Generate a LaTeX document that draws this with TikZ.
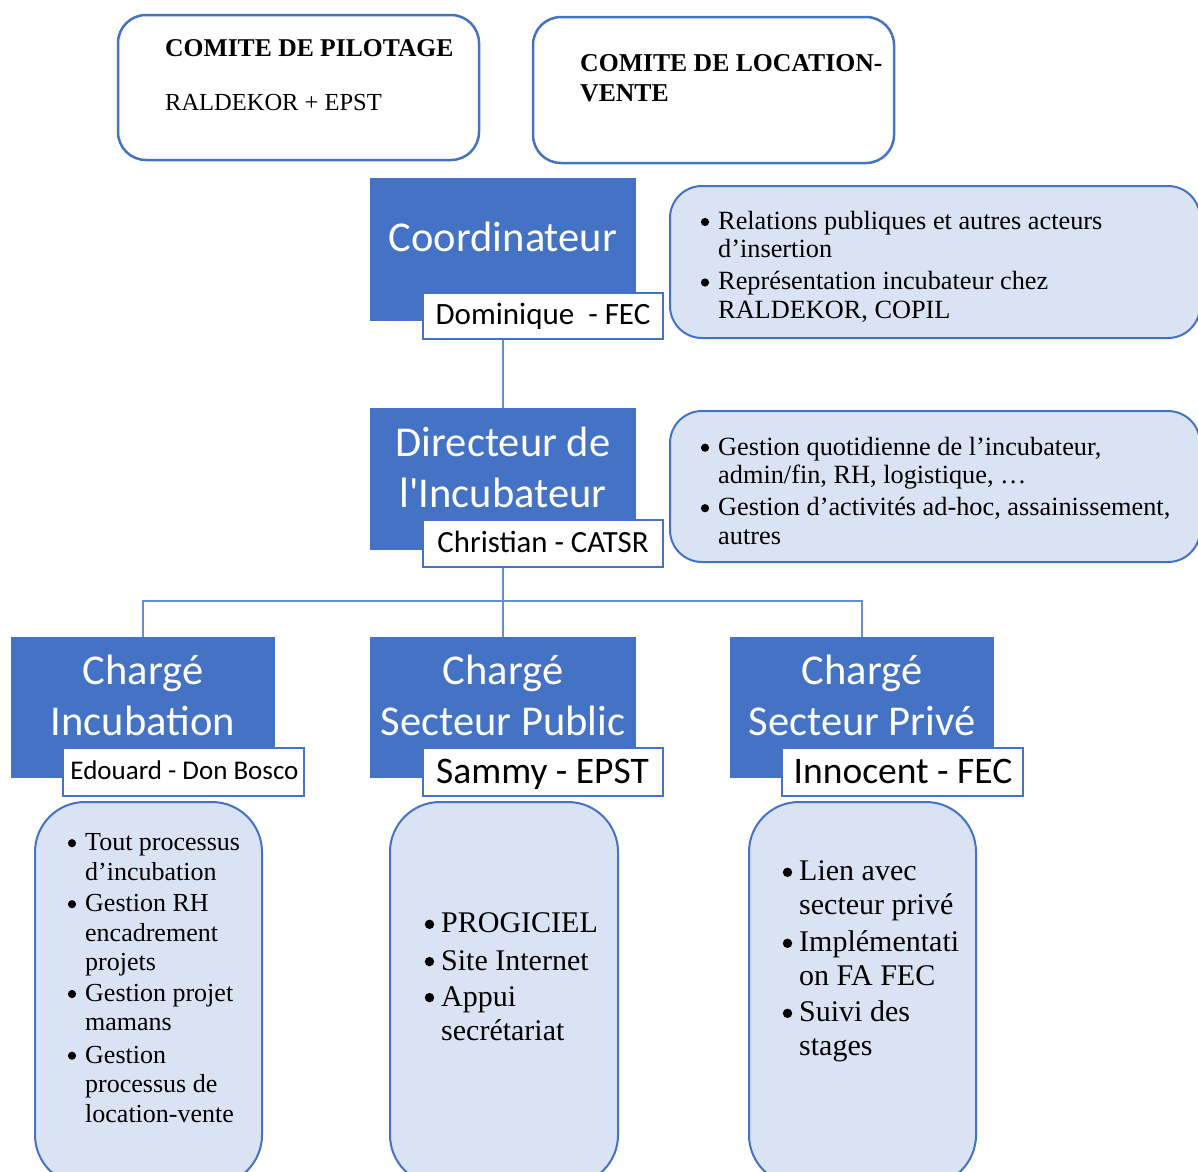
\documentclass[tikz,border=0pt]{standalone}
\usepackage{fontspec}
\setmainfont{Liberation Serif}
\newfontfamily\calfont{Carlito}
\definecolor{mblue}{HTML}{4472C4}
\definecolor{lblue}{HTML}{DAE3F3}
\definecolor{lineblue}{HTML}{6A8DD0}
\tikzset{
  topbox/.style={draw=mblue, line width=2.5pt, rounded corners=28pt, fill=white, inner sep=0pt},
  blueblock/.style={fill=mblue, draw=none, minimum width=266pt, minimum height=142pt, inner sep=0pt},
  namebox/.style={fill=white, draw=mblue, line width=1.6pt, minimum width=240pt, minimum height=47pt, inner sep=0pt},
  infobox/.style={fill=lblue, draw=mblue, line width=2pt, inner sep=0pt},
  conn/.style={draw=lineblue, line width=2pt},
  whitetxt/.style={text=white, font=\calfont\fontsize{42.5}{51}\selectfont, align=center, inner sep=0pt, anchor=base},
  nametxt/.style={font=\calfont, inner sep=0pt, anchor=base},
  itemtxt/.style={anchor=base west, align=left, inner sep=0pt},
  toptxt/.style={anchor=base west, inner sep=0pt},
  bulsmall/.style={fill=black, radius=4.1pt},
  bulbig/.style={fill=black, radius=4.7pt},
}
\begin{document}
\begin{tikzpicture}[x=1pt,y=-1pt]
\useasboundingbox (0,0) rectangle (1198,1171);
\fill[white] (0,0) rectangle (1198,1171);

% top committees
\node[topbox, minimum width=361pt, minimum height=145pt] (copil) at (298.5,87.5) {};
\node[toptxt, font=\bfseries\fontsize{25.6}{30}\selectfont] (copilT) at (165,56.7) {COMITE DE PILOTAGE};
\node[toptxt, font=\fontsize{24.5}{30}\selectfont] (copilS) at (165,110) {RALDEKOR + EPST};
\node[topbox, minimum width=361pt, minimum height=146pt] (colv) at (713.5,90) {};
\node[toptxt, font=\bfseries\fontsize{25.7}{30}\selectfont] (colvT) at (580,71) {COMITE DE LOCATION-};
\node[toptxt, font=\bfseries\fontsize{25.7}{30}\selectfont] (colvT2) at (580,101.7) {VENTE};

% info boxes right
\node[infobox, rounded corners=32pt, minimum width=530pt, minimum height=152pt] (info1) at (935,262) {};
\node[infobox, rounded corners=32pt, minimum width=530pt, minimum height=151pt] (info2) at (935,486.5) {};

% bottom info boxes
\node[infobox, rounded corners=50pt, minimum width=227pt, minimum height=383pt] (boxL) at (148.5,993.5) {};
\node[infobox, rounded corners=50pt, minimum width=228pt, minimum height=383pt] (boxM) at (504,993.5) {};
\node[infobox, rounded corners=50pt, minimum width=227pt, minimum height=383pt] (boxR) at (862.5,993.5) {};

% blue blocks
\node[blueblock, minimum height=143pt] (coord) at (503,249.5) {};
\node[blueblock] (dir) at (503,479) {};
\node[blueblock, minimum width=264pt, minimum height=141pt] (inc) at (143,707.5) {};
\node[blueblock, minimum height=141pt] (pub) at (503,707.5) {};
\node[blueblock, minimum width=264pt, minimum height=141pt] (priv) at (862,707.5) {};

% connectors
\coordinate (junc) at (503,601);
\draw[conn] (coord.south) -- (dir.north);
\draw[conn] (dir.south) -- (pub.north);
\draw[conn] (inc.north) |- (junc) -| (priv.north);

% name boxes
\node[namebox, minimum height=46pt] (dom) at (543,316) {};
\node[namebox] (chr) at (543,543.5) {};
\node[namebox, minimum width=241pt, minimum height=48pt] (edo) at (183.5,772) {};
\node[namebox, minimum height=48pt] (sam) at (543,772) {};
\node[namebox, minimum width=241pt, minimum height=48pt] (inn) at (902.5,772) {};

% block texts (base anchor = last line)
\node[whitetxt] (coordT) at (503,251.7) {Coordinateur};
\node[whitetxt] (dirT) at (503,507) {Directeur de\\l'Incubateur};
\node[whitetxt] (incT) at (143,735.7) {Chargé\\Incubation};
\node[whitetxt] (pubT) at (503,735.7) {Chargé\\Secteur Public};
\node[whitetxt] (privT) at (862,735.7) {Chargé\\Secteur Privé};

% name texts
\node[nametxt, font=\calfont\fontsize{31}{36}\selectfont] (domT) at (543,324) {Dominique\ \ - FEC};
\node[nametxt, font=\calfont\fontsize{30.8}{36}\selectfont] (chrT) at (543,552) {Christian - CATSR};
\node[nametxt, font=\calfont\fontsize{27}{32}\selectfont] (edoT) at (184.5,779) {Edouard - Don Bosco};
\node[nametxt, font=\calfont\fontsize{37.5}{42}\selectfont] (samT) at (542.5,783) {Sammy - EPST};
\node[nametxt, font=\calfont\fontsize{37.5}{42}\selectfont] (innT) at (903,783) {Innocent - FEC};

% info texts (base anchor = last line)
\begin{scope}[every node/.append style={font=\fontsize{26.3}{28.5}\selectfont}]
\node[itemtxt] (i1a) at (718,257.8) {Relations publiques et autres acteurs\\d’insertion};
\node[itemtxt] (i1b) at (718,318.3) {Représentation incubateur chez\\RALDEKOR, COPIL};
\node[itemtxt] (i2a) at (718,483.5) {Gestion quotidienne de l’incubateur,\\admin/fin, RH, logistique, …};
\node[itemtxt] (i2b) at (718,544) {Gestion d’activités ad-hoc, assainissement,\\autres};
\end{scope}
\foreach \yy in {222,282.5,447.7,508.2} \fill[bulsmall] (705,\yy) circle;

\begin{scope}[every node/.append style={font=\fontsize{26}{29.5}\selectfont}]
\node[itemtxt] (l1) at (85,880) {Tout processus\\d’incubation};
\node[itemtxt] (l2) at (85,970.5) {Gestion RH\\encadrement\\projets};
\node[itemtxt] (l3) at (85,1030.7) {Gestion projet\\mamans};
\node[itemtxt] (l4) at (85,1122) {Gestion\\processus de\\location-vente};
\end{scope}
\foreach \yy in {843.2,904.2,994,1055.7} \fill[bulsmall] (72,\yy) circle;

\begin{scope}[every node/.append style={font=\fontsize{30}{34}\selectfont}]
\node[itemtxt] (m1) at (441,932.7) {PROGICIEL};
\node[itemtxt] (m2) at (441,970) {Site Internet};
\node[itemtxt] (m3) at (441,1040) {Appui\\secrétariat};
\end{scope}
\foreach \yy in {924.3,961.6,997.6} \fill[bulbig] (429.5,\yy) circle;

\begin{scope}[every node/.append style={font=\fontsize{30}{33.3}\selectfont}]
\node[itemtxt] (r1) at (799,914) {Lien avec\\secteur privé};
\node[itemtxt] (r2) at (799,985) {Implémentati\\on FA FEC};
\node[itemtxt] (r3) at (799,1055) {Suivi des\\stages};
\end{scope}
\foreach \yy in {872.3,943.3,1013.3} \fill[bulbig] (787.5,\yy) circle;
\end{tikzpicture}
\end{document}
